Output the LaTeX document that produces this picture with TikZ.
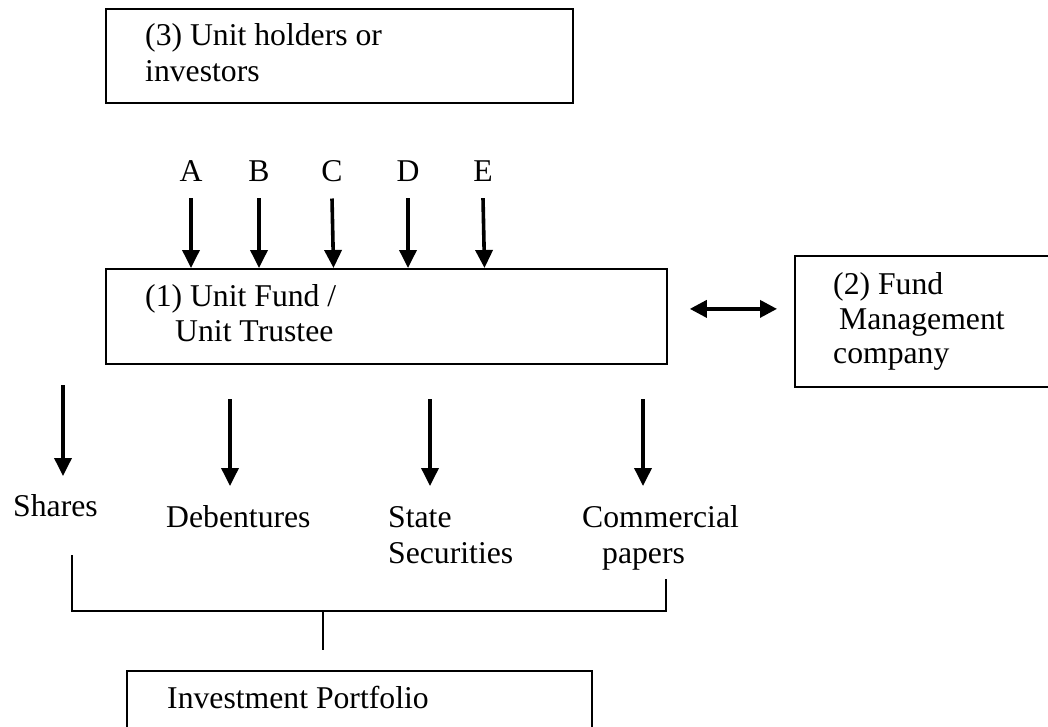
\documentclass[tikz,border=0pt]{standalone}
\usepackage{fontspec}
\setmainfont{Liberation Serif}
\usetikzlibrary{arrows.meta,calc}
\begin{document}
\begin{tikzpicture}[x=1pt,y=-1pt,
  box/.style={draw, line width=1.8pt, inner sep=0pt, anchor=north west},
  txt/.style={inner sep=0pt, anchor=base west, font=\fontsize{31.7pt}{36pt}\selectfont},
  lbl/.style={inner sep=0pt, anchor=base, font=\fontsize{31.7pt}{36pt}\selectfont},
  arr/.style={line width=3.6pt, -{Triangle[length=18pt,width=17pt]}},
  darr/.style={line width=3.6pt, {Triangle[length=17pt,width=17pt]}-{Triangle[length=17pt,width=17pt]}},
  link/.style={line width=1.7pt}]
\clip (0,0) rectangle (1048,727);
\fill[white] (0,0) rectangle (1048,727);

% boxes
\node[box, minimum width=467pt, minimum height=94pt] (b3) at (105,8) {};
\node[box, minimum width=561pt, minimum height=95pt] (b1) at (105,268) {};
\node[box, minimum width=290pt, minimum height=131pt] (b2) at (794,255) {};
\node[box, minimum width=465pt, minimum height=90pt] (bIP) at (126,670) {};

% box texts
\node[txt] (t3a) at (145,46) {(3) Unit holders or};
\node[txt] (t3b) at (145,82) {investors};
\node[txt] (t1a) at (145,306) {(1) Unit Fund /};
\node[txt] (t1b) at (175,341) {Unit Trustee};
\node[txt] (t2a) at (833,294) {(2) Fund};
\node[txt] (t2b) at (839,329) {Management};
\node[txt] (t2c) at (833,363) {company};
\node[txt] (tIP) at (167,708) {Investment Portfolio};

% top labels and arrows
\node[lbl] (lA) at (191,182) {A};
\node[lbl] (lB) at (259,182) {B};
\node[lbl] (lC) at (332,182) {C};
\node[lbl] (lD) at (408,182) {D};
\node[lbl] (lE) at (483,182) {E};
\foreach \n/\s in {lA/0,lB/0,lC/1.5,lD/0,lE/1.5}{
  \draw[arr] ([yshift=-16pt]\n.south) -- ([xshift=\s pt]\n.south |- b1.north);
}

% double arrow
\draw[darr] ($(b1.east)+(22,-7.5)$) -- ($(b2.west)+(-17,-12.5)$);

% lower labels
\node[txt] (lSh) at (13,516) {Shares};
\node[txt] (lDe) at (166,527) {Debentures};
\node[txt] (lSt) at (388,527) {State};
\node[txt] (lSe) at (388,563) {Securities};
\node[txt] (lCo) at (582,527) {Commercial};
\node[txt] (lPa) at (602,563) {papers};

% lower arrows
\coordinate (aSh1) at (63,385);  \coordinate (aSh2) at (63,476);
\coordinate (aDe1) at (230,399); \coordinate (aDe2) at (230,486);
\coordinate (aSt1) at (430,399); \coordinate (aSt2) at (430,486);
\coordinate (aCo1) at (643,399); \coordinate (aCo2) at (643,486);
\draw[arr] (aSh1) -- (aSh2);
\draw[arr] (aDe1) -- (aDe2);
\draw[arr] (aSt1) -- (aSt2);
\draw[arr] (aCo1) -- (aCo2);

% bracket and stem
\coordinate (brL) at (72,555);
\coordinate (brLb) at (72,611);
\coordinate (brRb) at (666,611);
\coordinate (brR) at (666,579);
\draw[link] (brL) -- (brLb) -- (brRb) -- (brR);
\coordinate (stT) at (323,611);
\coordinate (stB) at (323,650);
\draw[link] (stT) -- (stB);
\end{tikzpicture}
\end{document}
